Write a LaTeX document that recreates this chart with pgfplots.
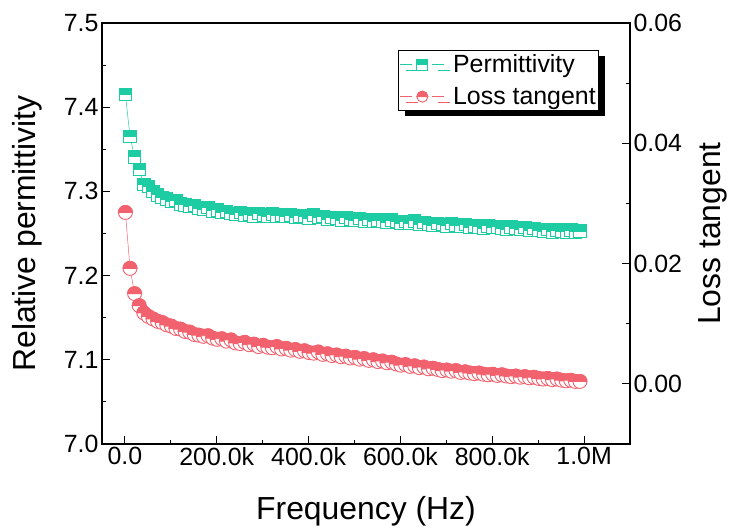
\documentclass[border=0pt]{standalone}
\usepackage{pgfplots}
\pgfplotsset{compat=1.18}
\usepackage{pgfplotstable}
\usepackage{fontspec}
\setmainfont{Liberation Sans}
\usetikzlibrary{shadows}
\definecolor{pcol}{RGB}{30,204,164}
\definecolor{lcol}{RGB}{242,98,110}

\pgfdeclareplotmark{halfsq}{%
  \pgfpathrectangle{\pgfqpoint{-\pgfplotmarksize}{-\pgfplotmarksize}}{\pgfqpoint{2\pgfplotmarksize}{2\pgfplotmarksize}}%
  \pgfsetfillcolor{white}\pgfusepath{fill,stroke}%
  \pgfpathrectangle{\pgfqpoint{-\pgfplotmarksize}{0pt}}{\pgfqpoint{2\pgfplotmarksize}{\pgfplotmarksize}}%
  \pgfsetfillcolor{pcol}\pgfusepath{fill,stroke}%
}
\pgfdeclareplotmark{halfci}{%
  \pgfpathcircle{\pgfpointorigin}{\pgfplotmarksize}%
  \pgfsetfillcolor{white}\pgfusepath{fill,stroke}%
  \pgfpathmoveto{\pgfqpoint{-\pgfplotmarksize}{0pt}}%
  \pgfpatharc{180}{0}{\pgfplotmarksize}%
  \pgfpathclose
  \pgfsetfillcolor{lcol}\pgfusepath{fill,stroke}%
}

\pgfplotstableread{
f eps tand
1000 7.415 0.0285
11000 7.365 0.0192
21000 7.341 0.0150
31000 7.326 0.0130
41000 7.308 0.0118
51000 7.306 0.0112
61000 7.300 0.0108
71000 7.296 0.0104
81000 7.293 0.0102
91000 7.291 0.0098
101000 7.288 0.0096
111000 7.289 0.0092
121000 7.285 0.0091
131000 7.284 0.0087
141000 7.282 0.0086
151000 7.283 0.0082
161000 7.280 0.0081
171000 7.279 0.0079
181000 7.281 0.0080
191000 7.277 0.0076
201000 7.278 0.0074
211000 7.275 0.0075
221000 7.276 0.0071
231000 7.274 0.0073
241000 7.273 0.0068
251000 7.275 0.0067
261000 7.272 0.0069
271000 7.273 0.0065
281000 7.271 0.0066
291000 7.274 0.0062
301000 7.272 0.0064
311000 7.270 0.0061
321000 7.273 0.0060
331000 7.271 0.0062
341000 7.272 0.0058
351000 7.270 0.0059
361000 7.272 0.0056
371000 7.269 0.0057
381000 7.271 0.0054
391000 7.270 0.0055
401000 7.268 0.0052
411000 7.272 0.0051
421000 7.269 0.0053
431000 7.270 0.0049
441000 7.267 0.0050
451000 7.269 0.0047
461000 7.268 0.0048
471000 7.266 0.0045
481000 7.269 0.0046
491000 7.267 0.0043
501000 7.266 0.0044
511000 7.268 0.0041
521000 7.265 0.0042
531000 7.267 0.0039
541000 7.264 0.0040
551000 7.266 0.0037
561000 7.265 0.0038
571000 7.263 0.0035
581000 7.266 0.0036
591000 7.264 0.0033
601000 7.262 0.0031
611000 7.264 0.0032
621000 7.262 0.0029
631000 7.265 0.0030
641000 7.261 0.0027
651000 7.263 0.0028
661000 7.261 0.0025
671000 7.260 0.0026
681000 7.262 0.0024
691000 7.261 0.0022
701000 7.259 0.0023
711000 7.262 0.0021
721000 7.260 0.0022
731000 7.259 0.0019
741000 7.261 0.0020
751000 7.257 0.0018
761000 7.259 0.0017
771000 7.258 0.0018
781000 7.256 0.0016
791000 7.259 0.0015
801000 7.257 0.0016
811000 7.258 0.0014
821000 7.256 0.0015
831000 7.255 0.0013
841000 7.258 0.0012
851000 7.256 0.0013
861000 7.255 0.0011
871000 7.257 0.0012
881000 7.254 0.0010
891000 7.256 0.0011
901000 7.254 0.0009
911000 7.253 0.0008
921000 7.255 0.0009
931000 7.252 0.0007
941000 7.254 0.0008
951000 7.253 0.0006
961000 7.252 0.0005
971000 7.254 0.0006
981000 7.252 0.0004
991000 7.253 0.0004
}\datatable

\begin{document}
\begin{tikzpicture}
\pgfplotsset{
  common/.style={
    at={(0,0)}, anchor=south west, scale only axis,
    width=528bp, height=421bp,
    xmin=-50000, xmax=1100000,
    tick align=inside,
    major tick length=8bp, minor tick length=4bp,
    every tick/.style={black, line width=1bp},
    axis line style={line width=1.2bp, -},
    ticklabel style={font=\fontsize{25}{30}\selectfont},
    label style={font=\fontsize{32}{38}\selectfont},
  }
}
\begin{axis}[common,
  ymin=7.0, ymax=7.5,
  xtick={0,200000,400000,600000,800000,1000000},
  xticklabels={0.0,200.0k,400.0k,600.0k,800.0k,1.0M},
  scaled x ticks=false,
  minor x tick num=1,
  ytick={7.0,7.1,7.2,7.3,7.4,7.5},
  minor y tick num=1,
  yticklabel style={/pgf/number format/.cd, fixed, fixed zerofill, precision=1, assume math mode=true},
  xtick pos=left, ytick pos=left,
  xlabel={Frequency (Hz)}, ylabel={Relative permittivity},
  xlabel style={at={(axis description cs:0.5,-0.159)}, anchor=center},
  ylabel style={at={(axis description cs:-0.142,0.5)}, anchor=center},
]
\addplot[pcol, line width=0.5bp, mark=halfsq, mark size=6.2bp, mark options={line width=0.9bp}] table[x=f, y=eps] {\datatable};
\end{axis}
\begin{axis}[common,
  axis x line=none, axis y line*=right,
  ymin=-0.01, ymax=0.06,
  ytick={0,0.02,0.04,0.06},
  minor y tick num=1,
  yticklabel style={/pgf/number format/.cd, fixed, fixed zerofill, precision=2, assume math mode=true},
  scaled y ticks=false,
  ylabel={Loss tangent},
  ylabel style={at={(axis description cs:1.157,0.5)}, anchor=center},
  legend cell align=left,
  legend style={at={(axis description cs:0.561,0.936)}, anchor=north west,
    draw=black, line width=0.8bp, fill=white,
    font=\fontsize{25}{30}\selectfont,
    drop shadow={shadow xshift=6bp, shadow yshift=-6bp, fill=black, opacity=1},
    inner xsep=1bp, inner ysep=2.5bp, row sep=9bp,
    /tikz/every odd column/.append style={column sep=6bp}},
  legend image code/.code={%
    \draw[#1, line width=1.5bp] (0bp,0bp) -- (12bp,0bp);
    \draw[#1, line width=1.5bp] (32bp,0bp) -- (44bp,0bp);
    \draw[#1, mark size=5.5bp, mark options={line width=0.9bp}] plot coordinates {(22bp,0bp)};},
]
\addlegendimage{pcol, mark=halfsq}
\addlegendentry{Permittivity}
\addplot[lcol, line width=0.5bp, mark=halfci, mark size=7bp, mark options={line width=0.9bp}] table[x=f, y=tand] {\datatable};
\addlegendentry{Loss tangent}
\end{axis}
\pgfresetboundingbox
\path[use as bounding box] (-102bp,-85bp) rectangle (629bp,444bp);
\end{tikzpicture}
\end{document}
